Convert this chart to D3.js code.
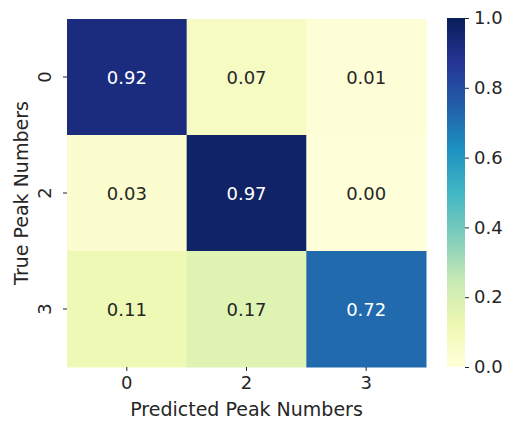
<!DOCTYPE html>
<html>
<head>
<meta charset="utf-8">
<script src="https://d3js.org/d3.v7.min.js"></script>
<style>
  body { margin: 0; background: #fff; }
  text { font-family: "DejaVu Sans", sans-serif; }
</style>
</head>
<body>
<div id="chart"></div>
<script>
// confusion matrix values (rows = true, cols = predicted)
var rowLabels = ["0", "2", "3"];
var colLabels = ["0", "2", "3"];
var values = [
  [0.92, 0.07, 0.01],
  [0.03, 0.97, 0.00],
  [0.11, 0.17, 0.72]
];
var cbTicks = [0.0, 0.2, 0.4, 0.6, 0.8, 1.0];
var ylgnbu = ["#ffffd9", "#edf8b1", "#c7e9b4", "#7fcdbb", "#41b6c4", "#1d91c0", "#225ea8", "#253494", "#081d58"];

var W = 512, H = 423;
var mLeft = 67, mTop = 19, mRight = 426, mBottom = 367;
var tickFont = 18, labelFont = 19;

var svg = d3.select("#chart").append("svg")
  .attr("width", W).attr("height", H);

var x = d3.scaleBand().domain(colLabels).range([mLeft, mRight]);
var y = d3.scaleBand().domain(rowLabels).range([mTop, mBottom]);
var color = d3.scaleLinear()
  .domain(d3.range(ylgnbu.length).map(function(i) { return i / (ylgnbu.length - 1); }))
  .range(ylgnbu);

var cells = [];
values.forEach(function(row, i) {
  row.forEach(function(v, j) { cells.push({r: rowLabels[i], c: colLabels[j], v: v}); });
});

svg.selectAll("rect.cell").data(cells).enter().append("rect")
  .attr("class", "cell")
  .attr("x", function(d) { return x(d.c); })
  .attr("y", function(d) { return y(d.r); })
  .attr("width", x.bandwidth() + 0.5)
  .attr("height", y.bandwidth() + 0.5)
  .attr("fill", function(d) { return color(d.v); });

function lum(c) {
  var rgb = d3.rgb(c);
  var f = function(u) { u = u / 255; return u <= 0.03928 ? u / 12.92 : Math.pow((u + 0.055) / 1.055, 2.4); };
  return 0.2126 * f(rgb.r) + 0.7152 * f(rgb.g) + 0.0722 * f(rgb.b);
}

svg.selectAll("text.annot").data(cells).enter().append("text")
  .attr("class", "annot")
  .attr("x", function(d) { return x(d.c) + x.bandwidth() / 2; })
  .attr("y", function(d) { return y(d.r) + y.bandwidth() / 2; })
  .attr("text-anchor", "middle")
  .attr("dominant-baseline", "central")
  .attr("font-size", tickFont)
  .attr("fill", function(d) { return lum(color(d.v)) > 0.408 ? "#262626" : "#ffffff"; })
  .text(function(d) { return d.v.toFixed(2); });

// x axis
var xAxis = svg.append("g").attr("transform", "translate(0," + mBottom + ")")
  .call(d3.axisBottom(x).tickSize(4).tickPadding(5));
xAxis.select(".domain").remove();
xAxis.selectAll("text").attr("font-size", tickFont).attr("fill", "#262626").attr("font-family", "DejaVu Sans");
xAxis.selectAll("line").attr("stroke", "#262626");

// y axis, tick labels rotated
var yAxis = svg.append("g").attr("transform", "translate(" + mLeft + ",0)")
  .call(d3.axisLeft(y).tickSize(4).tickPadding(5));
yAxis.select(".domain").remove();
yAxis.selectAll("line").attr("stroke", "#262626");
yAxis.selectAll("text")
  .attr("font-size", tickFont).attr("fill", "#262626").attr("font-family", "DejaVu Sans")
  .attr("x", 0).attr("dy", null)
  .attr("text-anchor", "middle")
  .attr("transform", "translate(-16,0) rotate(-90)");

svg.append("text")
  .attr("x", (mLeft + mRight) / 2).attr("y", 416)
  .attr("text-anchor", "middle")
  .attr("font-size", labelFont).attr("fill", "#262626")
  .text("Predicted Peak Numbers");

svg.append("text")
  .attr("transform", "translate(28," + (mTop + mBottom) / 2 + ") rotate(-90)")
  .attr("text-anchor", "middle")
  .attr("font-size", labelFont).attr("fill", "#262626")
  .text("True Peak Numbers");

// colorbar
var cbX = 447, cbW = 18;
var cbY = d3.scaleLinear().domain([0, 1]).range([mBottom, 18]);
var defs = svg.append("defs");
var grad = defs.append("linearGradient").attr("id", "cbgrad")
  .attr("x1", 0).attr("y1", 1).attr("x2", 0).attr("y2", 0);
ylgnbu.forEach(function(c, i) {
  grad.append("stop").attr("offset", i / (ylgnbu.length - 1)).attr("stop-color", c);
});
svg.append("rect")
  .attr("x", cbX).attr("y", cbY(1))
  .attr("width", cbW).attr("height", cbY(0) - cbY(1))
  .attr("fill", "url(#cbgrad)");

var cbAxis = svg.append("g").attr("transform", "translate(" + (cbX + cbW) + ",0)")
  .call(d3.axisRight(cbY).tickValues(cbTicks).tickFormat(d3.format(".1f")).tickSize(4).tickPadding(5));
cbAxis.select(".domain").remove();
cbAxis.selectAll("line").attr("stroke", "#262626");
cbAxis.selectAll("text").attr("font-size", tickFont).attr("fill", "#262626").attr("font-family", "DejaVu Sans");
</script>
</body>
</html>
